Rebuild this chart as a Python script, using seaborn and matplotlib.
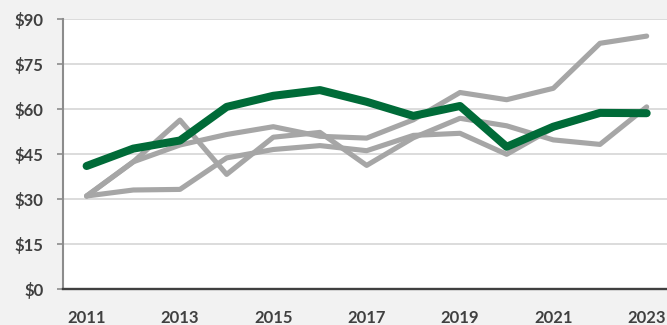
import numpy as np
import pandas as pd
import matplotlib
matplotlib.use("Agg")
import matplotlib.pyplot as plt
import seaborn as sns

# Annual values, 2011-2023
years = list(range(2011, 2024))
company = [41.1, 46.9, 49.6, 60.8, 64.5, 66.4, 62.5, 57.8, 61.1, 47.5, 54.2, 58.8, 58.7]
peer_a = [31.1, 42.5, 56.4, 38.3, 50.7, 52.3, 41.3, 50.5, 57.0, 54.5, 49.8, 48.3, 60.8]
peer_b = [31.1, 33.1, 33.3, 43.8, 46.6, 47.9, 46.2, 51.3, 52.0, 45.0, 53.8, 58.6, 58.6]
peer_c = [31.1, 42.5, 48.1, 51.6, 54.2, 51.0, 50.4, 56.5, 65.6, 63.2, 67.0, 82.0, 84.4]

y_ticks = [0, 15, 30, 45, 60, 75, 90]
y_labels = ["$0", "$15", "$30", "$45", "$60", "$75", "$90"]
x_labels = [str(y) for y in years[::2]]

sns.set_style("white")
plt.rcParams["font.family"] = ["Lato", "DejaVu Sans"]

text_color = "#404040"
gray = "#a6a6a6"
green = "#006b38"

fig = plt.figure(figsize=(6.67, 3.25), dpi=100, facecolor="#f2f2f2")
ax = fig.add_axes([63.3 / 667, 35.7 / 325, (670 - 63.3) / 667, 270 / 325])
ax.set_facecolor("white")

idx = np.arange(len(years))
df = pd.DataFrame({"idx": idx, "company": company, "peer_a": peer_a,
                   "peer_b": peer_b, "peer_c": peer_c})

line_kw = dict(solid_capstyle="round", solid_joinstyle="round")
for col in ["peer_b", "peer_a", "peer_c"]:
    sns.lineplot(data=df, x="idx", y=col, ax=ax, color=gray, linewidth=3.7,
                 zorder=3, **line_kw)
sns.lineplot(data=df, x="idx", y="company", ax=ax, color=green, linewidth=5.8,
             zorder=4, **line_kw)

ax.set_xlim(-0.5, 12.5)
ax.set_ylim(0, 90)

# gridlines
ax.set_yticks(y_ticks)
ax.set_yticklabels(y_labels)
ax.yaxis.grid(True, color="#d9d9d9", linewidth=1.3, zorder=0)
ax.xaxis.grid(False)
ax.set_axisbelow(True)

ax.set_xticks(idx[::2])
ax.set_xticklabels(x_labels)
ax.set_xticks(np.arange(-0.5, 13, 1), minor=True)

ax.tick_params(axis="x", which="major", length=0, pad=15,
               labelsize=12, labelcolor=text_color)
ax.tick_params(axis="x", which="minor", length=4.5, width=1.2,
               color="#404040", direction="out")
ax.tick_params(axis="y", which="major", length=4.3, width=1.2,
               color="#8c8c8c", direction="out", pad=10,
               labelsize=12, labelcolor=text_color, left=True)
for lab in ax.get_xticklabels() + ax.get_yticklabels():
    lab.set_fontweight("bold")

for s in ["top", "right"]:
    ax.spines[s].set_visible(False)
ax.spines["left"].set_color("#8c8c8c")
ax.spines["left"].set_linewidth(1.5)
ax.spines["bottom"].set_color("#404040")
ax.spines["bottom"].set_linewidth(1.7)
ax.spines["bottom"].set_zorder(5)

ax.set_xlabel("")
ax.set_ylabel("")

fig.savefig("out.png", dpi=100, facecolor=fig.get_facecolor())
